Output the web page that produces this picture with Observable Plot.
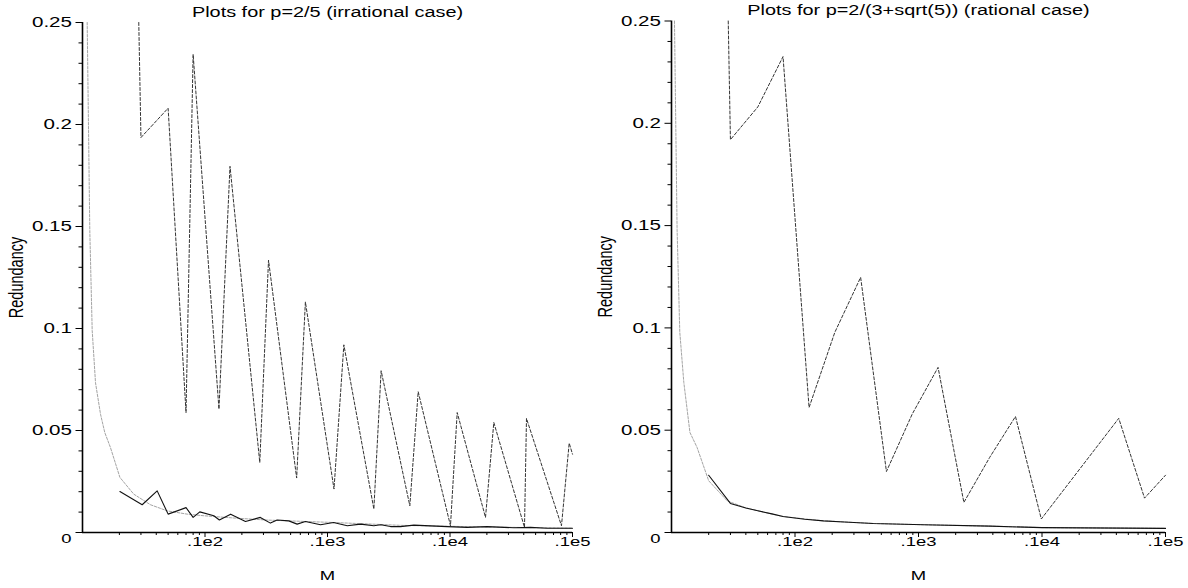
<!DOCTYPE html>
<html>
<head>
<meta charset="utf-8">
<script src="https://cdn.jsdelivr.net/npm/d3@7"></script>
<script src="https://cdn.jsdelivr.net/npm/@observablehq/plot@0.6"></script>
<style>
  body { margin: 0; background: #fff; }
  #wrap { display: flex; width: 1188px; height: 588px; overflow: hidden; }
  #wrap svg { display: block; }
</style>
</head>
<body>
<div id="wrap"></div>
<script>
// ---------- shared axis data ----------
const xDomain = [1, 10000];
const yDomain = [0, 0.25];
const xTickValues = [10, 100, 1000, 10000];
const xTickLabels = [".1e2", ".1e3", ".1e4", ".1e5"];
const xMinorTicks = [2,3,4,5,6,7,8,9, 20,30,40,50,60,70,80,90, 200,300,400,500,600,700,800,900, 2000,3000,4000,5000,6000,7000,8000,9000];
const yTickValues = [0, 0.05, 0.1, 0.15, 0.2, 0.25];
const yTickLabels = ["0", "0.05", "0.1", "0.15", "0.2", "0.25"];
const yMinorTicks = [0.01,0.02,0.03,0.04, 0.06,0.07,0.08,0.09, 0.11,0.12,0.13,0.14, 0.16,0.17,0.18,0.19, 0.21,0.22,0.23,0.24];
const titles = ["Plots for p=2/5 (irrational case)", "Plots for p=2/(3+sqrt(5)) (rational case)"];
const xLabel = "M";
const yLabel = "Redundancy";

// ---------- left panel (p = 2/5) ----------
const leftDashedM = [2.88, 3, 5, 7, 8, 13, 16, 28, 33, 56, 66, 113, 136, 239, 274, 470, 550, 1009, 1145, 1949, 2279, 4057, 4211, 8128, 9397, 10000];
const leftDashedR = [0.25, 0.1936, 0.208, 0.0588, 0.2344, 0.0605, 0.1795, 0.0343, 0.1335, 0.0267, 0.113, 0.0213, 0.092, 0.0115, 0.0793, 0.0131, 0.069, 0.0033, 0.0588, 0.0074, 0.0539, 0.0025, 0.0559, 0.0033, 0.0438, 0.0384];

const leftSolidM = [2.02, 3.07, 4.07, 5.0, 7.0, 8.0, 9.07, 11.8, 13.1, 16.2, 21.4, 28.3, 34.2, 38.8, 48.3, 56.5, 66, 87.7, 112, 145, 186, 239, 272, 327, 394, 507, 948, 1381, 2013, 3319, 4539, 6213, 10000];
const leftSolidR = [0.0201, 0.0136, 0.0204, 0.009, 0.0122, 0.0074, 0.0101, 0.0082, 0.0061, 0.009, 0.0054, 0.0074, 0.0046, 0.0061, 0.0057, 0.0041, 0.0054, 0.0038, 0.0049, 0.0033, 0.0041, 0.0033, 0.0038, 0.0029, 0.0029, 0.0036, 0.0029, 0.0025, 0.0029, 0.0023, 0.0025, 0.0021, 0.0021];

const leftGrayM = [1.092, 1.147, 1.2, 1.277, 1.403, 1.52, 1.69, 2.02, 2.62, 3.59, 4.92, 7.15, 9.8, 17.2, 32, 112, 400, 2000, 10000];
const leftGrayR = [0.25, 0.148, 0.099, 0.0734, 0.058, 0.049, 0.0417, 0.027, 0.0188, 0.0136, 0.0106, 0.009, 0.0082, 0.0071, 0.0061, 0.0049, 0.0035, 0.0027, 0.0021];

// ---------- right panel (p = 2/(3+sqrt(5))) ----------
const rightDashedM = [2.88, 3, 5, 8, 13, 21, 34, 55, 89, 144, 233, 377, 610, 987, 4181, 6765, 10000];
const rightDashedR = [0.25, 0.192, 0.208, 0.2326, 0.0611, 0.0978, 0.1247, 0.0298, 0.0579, 0.0807, 0.0147, 0.0367, 0.0567, 0.0066, 0.0558, 0.0168, 0.028];

const rightSolidM = [2.0, 3.0, 4.0, 5.0, 6.5, 8.0, 12, 17, 25, 43, 110, 381, 1000, 10000];
const rightSolidR = [0.028, 0.0142, 0.012, 0.0106, 0.0091, 0.0078, 0.0065, 0.0057, 0.0051, 0.0044, 0.0038, 0.0031, 0.0024, 0.002];

const rightGrayM = [1.057, 1.11, 1.167, 1.258, 1.41, 1.61, 2.0, 2.82, 4.0, 5.0, 8.0, 17, 43, 110, 381, 1000, 10000];
const rightGrayR = [0.25, 0.148, 0.098, 0.0734, 0.0489, 0.0416, 0.0253, 0.0155, 0.012, 0.0106, 0.0078, 0.0057, 0.0044, 0.0038, 0.0031, 0.0024, 0.002];

const zip = (M, R) => M.map((m, i) => ({M: m, R: R[i]}));
const yFmt = d => yTickLabels[yTickValues.indexOf(d)] ?? "";
const xFmt = d => xTickLabels[xTickValues.indexOf(d)] ?? "";

function panel({title, dashed, solid, gray, marginLeft, marginRight, marginTop}) {
  const svg = Plot.plot({
    width: 594,
    height: 588,
    marginLeft, marginRight, marginTop, marginBottom: 56,
    x: {type: "log", domain: xDomain},
    y: {domain: yDomain},
    style: {fontFamily: "'Liberation Sans', Arial, Helvetica, sans-serif", fontSize: "13px", color: "black", background: "white", overflow: "visible"},
    marks: [
      // minor ticks
      Plot.axisY({ticks: yMinorTicks, tickSize: 3.5, tickFormat: () => "", label: null}),
      Plot.axisX({ticks: xMinorTicks, tickSize: 3, tickFormat: () => "", label: null}),
      // major ticks
      Plot.axisY({ticks: yTickValues, tickSize: 6.5, tickPadding: 4, tickFormat: d => d === 0 ? "" : yFmt(d),
                  label: yLabel, labelAnchor: "center", labelOffset: 73, labelArrow: "none", fontSize: 14.5}),
      Plot.axisY({ticks: [0], tickSize: 0, tickPadding: 11, tickFormat: yFmt, dy: 6, label: null}),
      Plot.axisX({ticks: xTickValues, tickSize: 5, tickPadding: -1, tickFormat: xFmt,
                  label: xLabel, labelAnchor: "center", labelOffset: 47, labelArrow: "none"}),
      // axis lines
      Plot.ruleX([xDomain[0]], {y1: yDomain[0], y2: yDomain[1], stroke: "black", strokeWidth: 1.6}),
      Plot.ruleY([yDomain[0]], {x1: xDomain[0], x2: xDomain[1], stroke: "black", strokeWidth: 1.6}),
      // data
      Plot.line(gray, {x: "M", y: "R", stroke: "#a4a4a4", strokeWidth: 1, strokeDasharray: "2.5,1.5"}),
      Plot.line(dashed, {x: "M", y: "R", stroke: "#333", strokeWidth: 1, strokeDasharray: "3,2"}),
      Plot.line(solid, {x: "M", y: "R", stroke: "#111", strokeWidth: 1.1}),
      // title
      Plot.text([title], {frameAnchor: "top", dy: -10, lineAnchor: "middle", fontSize: 14, fill: "black"})
    ]
  });
  // Reference text is horizontally stretched; stretch each glyph run about its anchor.
  svg.querySelectorAll("text").forEach(t => {
    let tr = t.getAttribute("transform") || "";
    const x = t.getAttribute("x");
    if (x !== null && !/em/.test(x)) {
      tr = `translate(${+x},0) ` + tr;
      t.removeAttribute("x");
    }
    if (/rotate/.test(tr)) tr += " scale(1,1.35)";
    else tr += " scale(1.42,1)";
    t.setAttribute("transform", tr.trim());
  });
  return svg;
}

const wrap = document.getElementById("wrap");
wrap.appendChild(panel({
  title: titles[0],
  dashed: zip(leftDashedM, leftDashedR),
  solid: zip(leftSolidM, leftSolidR),
  gray: zip(leftGrayM, leftGrayR),
  marginLeft: 82, marginRight: 22, marginTop: 22
}));
wrap.appendChild(panel({
  title: titles[1],
  dashed: zip(rightDashedM, rightDashedR),
  solid: zip(rightSolidM, rightSolidR),
  gray: zip(rightGrayM, rightGrayR),
  marginLeft: 77, marginRight: 23, marginTop: 20.5
}));
</script>
</body>
</html>
